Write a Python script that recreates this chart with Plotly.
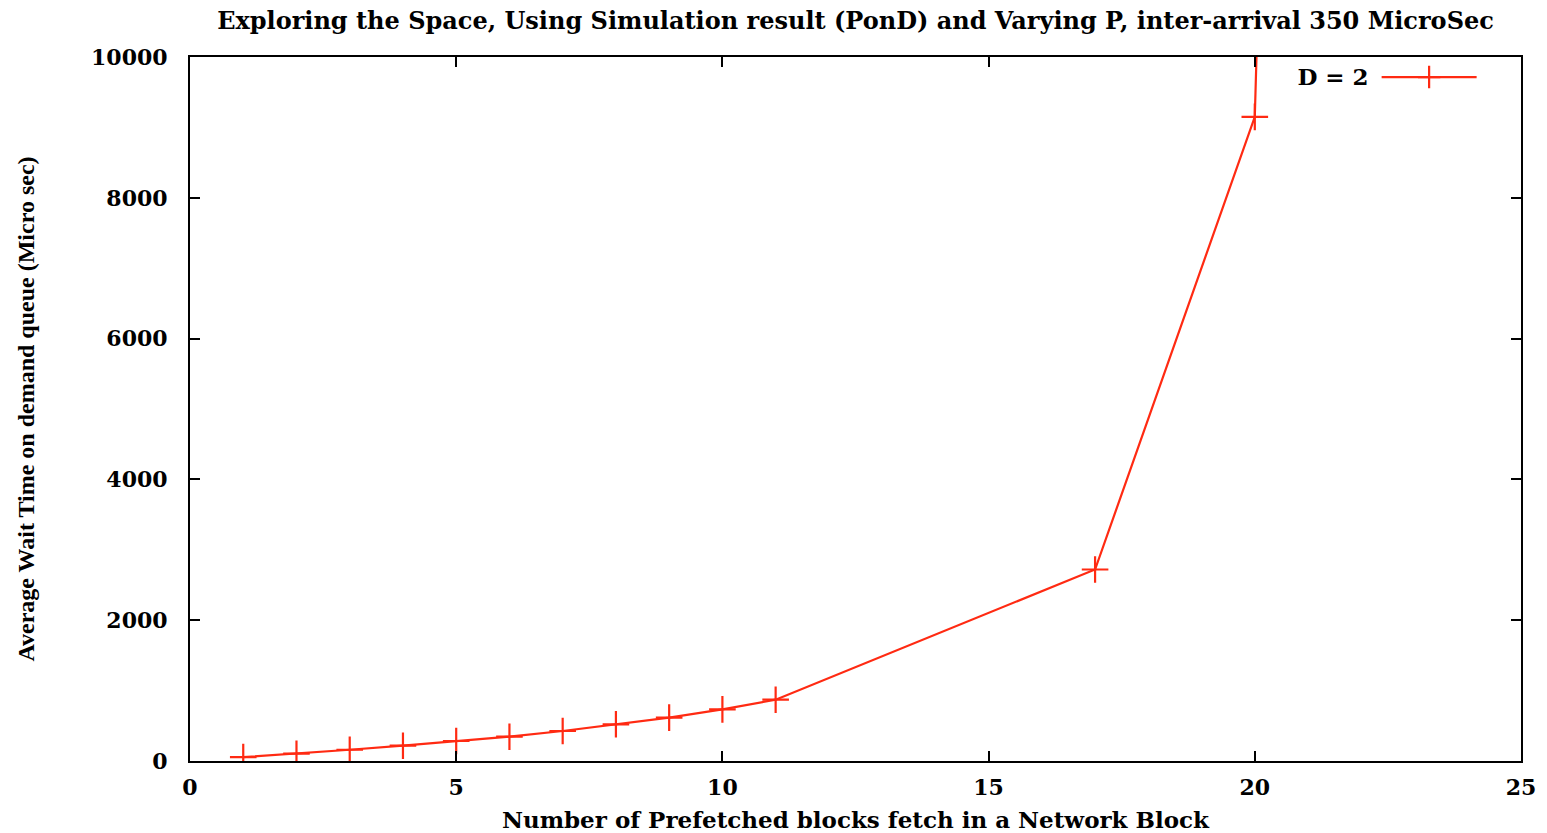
import plotly.graph_objects as go

# Prefetch depth P (blocks per network block) and mean wait on the demand queue
prefetched_blocks = [1, 2, 3, 4, 5, 6, 7, 8, 9, 10, 11, 17, 20, 21]
avg_wait_us = [55, 104, 160, 217, 284, 345, 426, 521, 616, 734, 871, 2720, 9150, 36000]

x_ticks = [0, 5, 10, 15, 20, 25]
y_ticks = [0, 2000, 4000, 6000, 8000, 10000]

LINE_RED = "#ff2a12"
WIDE_SERIF = "DejaVu Serif"
SERIF = "Liberation Serif, Times New Roman, serif"

fig = go.Figure()
fig.add_trace(go.Scatter(
    x=prefetched_blocks,
    y=avg_wait_us,
    mode="lines+markers",
    name=" ",
    line=dict(color=LINE_RED, width=2.2),
    marker=dict(symbol="cross-thin", size=19,
                line=dict(color=LINE_RED, width=2.2), color=LINE_RED),
    showlegend=True,
))

axis_common = dict(
    showline=True, linecolor="black", linewidth=2, mirror="ticks",
    ticks="inside", ticklen=10, tickwidth=1.5, tickcolor="black",
    showgrid=False, zeroline=False, automargin=False,
    tickfont=dict(family=WIDE_SERIF, size=22, color="black", weight="bold"),
)

fig.update_xaxes(
    range=[0, 25], tickvals=x_ticks, ticktext=[str(v) for v in x_ticks],
    title=dict(text="Number of Prefetched blocks fetch in a Network Block",
               font=dict(family=WIDE_SERIF, size=23, color="black", weight="bold"),
               standoff=12),
    ticklabelstandoff=6,
    **axis_common,
)
fig.update_yaxes(
    range=[0, 10000], tickvals=y_ticks, ticktext=[str(v) for v in y_ticks],
    title=dict(text="Average Wait Time on demand queue (Micro sec)",
               font=dict(family=SERIF, size=24, color="black", weight="bold"),
               standoff=50),
    ticklabelstandoff=16,
    **axis_common,
)

fig.update_layout(
    width=1547, height=833,
    margin=dict(l=190, r=26, t=57, b=72),
    paper_bgcolor="white", plot_bgcolor="white",
    title=dict(
        text="Exploring the Space, Using Simulation result (PonD) and Varying P, inter-arrival 350 MicroSec",
        font=dict(family=WIDE_SERIF, size=24, color="black", weight="bold"),
        xref="paper", x=0.5, xanchor="center", y=0.975, yanchor="middle",
    ),
    legend=dict(
        x=0.98, xanchor="right", y=1.002, yanchor="top",
        bgcolor="rgba(0,0,0,0)",
        title=dict(text="D = 2", side="left",
                   font=dict(family=WIDE_SERIF, size=23, color="black", weight="bold")),
        font=dict(family=WIDE_SERIF, size=23, color="black"),
        itemwidth=95,
    ),
)

fig.write_html("out.html")
